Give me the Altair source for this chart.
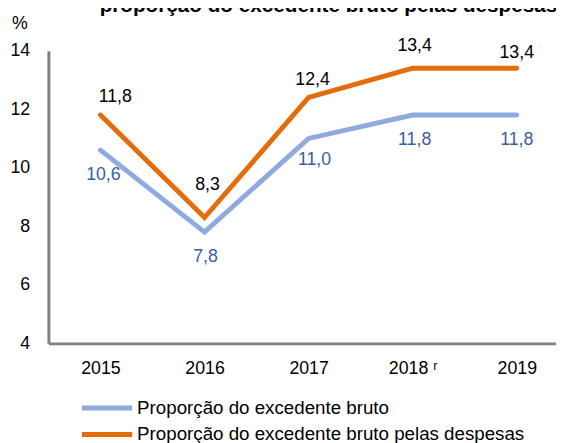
import altair as alt
import pandas as pd

years = ["2015", "2016", "2017", "2018", "2019"]
excedente = [10.6, 7.8, 11.0, 11.8, 11.8]
despesas = [11.8, 8.3, 12.4, 13.4, 13.4]
series_names = ["Proporção do excedente bruto",
                "Proporção do excedente bruto pelas despesas"]
y_ticks = [4, 6, 8, 10, 12, 14]
title_text = "proporção do excedente bruto pelas despesas"

rows = []
for s, vals in zip(series_names, [excedente, despesas]):
    for yr, v in zip(years, vals):
        rows.append({"ano": yr, "valor": v, "serie": s})
df = pd.DataFrame(rows)

FONT = "Liberation Sans, Arial, sans-serif"
BLUE = "#8FAADC"
ORANGE = "#E46C0A"
LBLUE = "#3A5DA3"
GRAY = "#808080"
FS = 18

x = alt.X("ano:O", scale=alt.Scale(range=[0, 528]),
          axis=alt.Axis(title=None, labelAngle=0, domainColor=GRAY, domainWidth=3,
                        ticks=False, labelFontSize=FS, labelFont=FONT, labelColor="#000",
                        labelPadding=17,
                        labelExpr="datum.value == '2018' ? '2018 ʳ' : datum.value"))
y = alt.Y("valor:Q", scale=alt.Scale(domain=[4, 14], nice=False, zero=False),
          axis=alt.Axis(values=y_ticks, title="%", titleAngle=0, titleX=-29.5, titleY=-22,
                        titleAlign="center", titleBaseline="alphabetic",
                        titleFontSize=FS, titleFont=FONT, titleFontWeight="normal",
                        titleColor="#000", grid=False, ticks=False, domainColor=GRAY,
                        domainWidth=3, labelFontSize=FS, labelFont=FONT,
                        labelColor="#000", labelPadding=19))

base = alt.Chart(df).encode(x=x, y=y)

lines = base.mark_line(strokeWidth=5, strokeCap="round", strokeJoin="miter").encode(
    color=alt.Color("serie:N",
                    scale=alt.Scale(domain=series_names, range=[BLUE, ORANGE]),
                    legend=alt.Legend(title=None, orient="none", legendX=50, legendY=353,
                                      symbolType="M-5,0H5", symbolSize=104,
                                      symbolStrokeWidth=5, labelFontSize=19,
                                      labelFont=FONT, labelColor="#000", labelOffset=21,
                                      rowPadding=6, padding=0, labelLimit=600))
)

lbl = "replace(format(datum.valor, '.1f'), '.', ',')"

# label placement style (dx, dy) for each series / year, like the original chart
label_style = {
    series_names[1]: {"2015": (15, -13), "2016": (3, -28), "2017": (4, -13),
                      "2018": (2, -17), "2019": (0, -10)},
    series_names[0]: {"2015": (3, 30), "2016": (1, 30), "2017": (6, 27),
                      "2018": (2, 30), "2019": (0, 30)},
}
label_color = {series_names[0]: LBLUE, series_names[1]: "#000"}

text_layers = []
for s in series_names:
    for yr in years:
        dx, dy = label_style[s][yr]
        text_layers.append(
            base.transform_filter(
                f"datum.serie == '{s}' && datum.ano == '{yr}'"
            ).transform_calculate(lab=lbl).mark_text(
                dx=dx, dy=dy, color=label_color[s], font=FONT, fontSize=FS,
                baseline="alphabetic", align="center"
            ).encode(text="lab:N")
        )

chart = alt.layer(lines, *text_layers).properties(
    width=515, height=297,
    autosize=alt.AutoSizeParams(type="none"),
    padding={"left": 41, "top": 40, "right": 0, "bottom": 110},
    title=alt.TitleParams(text=title_text, anchor="start", frame="group", dx=52,
                          offset=-18, baseline="alphabetic", fontSize=21,
                          fontWeight="bold", font=FONT, color="#000"),
).configure_view(stroke=None)

chart.save("out.html", embed_options={"renderer": "svg", "actions": False})
